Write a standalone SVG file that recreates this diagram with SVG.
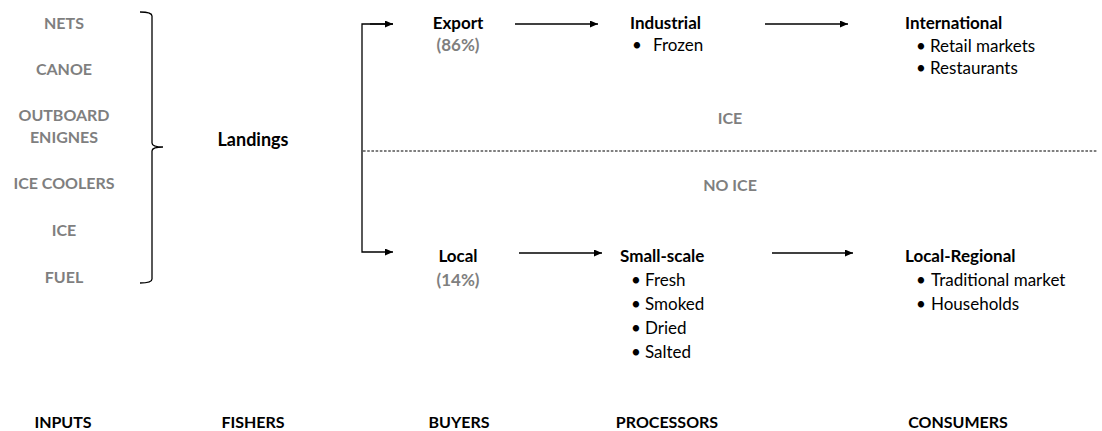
<svg xmlns="http://www.w3.org/2000/svg" width="1102" height="431" viewBox="0 0 1102 431">
<style>
text{font-family:Lato,"Open Sans","Liberation Sans",sans-serif;font-size:17px;}
.g{fill:#7f7f7f;font-weight:bold;font-size:16px;}
.p{fill:#7f7f7f;font-weight:bold;font-size:17px;}
.b{fill:#000;font-weight:bold;}
.k{fill:#000;font-weight:bold;font-size:16px;}
.n{fill:#000;}
.c{text-anchor:middle;}
.ln{stroke:#000;stroke-width:1.3;fill:none;}
</style>
<defs>
<marker id="ah" markerWidth="8" markerHeight="7" refX="8" refY="3.5" orient="auto" markerUnits="userSpaceOnUse">
<path d="M0,0 L8,3.5 L0,7 Z" fill="#000"/>
</marker>
</defs>
<rect width="1102" height="431" fill="#fff"/>
<g id="inputs">
<text class="g c" x="64" y="29">NETS</text>
<text class="g c" x="64" y="75">CANOE</text>
<text class="g c" x="64" y="121">OUTBOARD</text>
<text class="g c" x="64" y="143">ENIGNES</text>
<text class="g c" x="64" y="189">ICE COOLERS</text>
<text class="g c" x="64" y="236">ICE</text>
<text class="g c" x="64" y="283">FUEL</text>
</g>
<g id="brace">
<path class="ln" stroke-width="1" d="M140,12 Q152,12 152,16 V143 Q152,147 163,147 Q152,147 152,151 V279 Q152,283 140,283"/>
</g>
<g id="landings"><text class="b c" x="253" y="146" style="font-size:18px">Landings</text></g>
<g id="export"><text class="b c" x="458" y="29">Export</text><text class="p c" x="458" y="51">(86%)</text></g>
<g id="local"><text class="b c" x="458" y="262">Local</text><text class="p c" x="458" y="286">(14%)</text></g>
<g id="industrial">
<text class="b" x="630" y="29">Industrial</text>
<text class="n" y="51"><tspan x="632">•</tspan><tspan x="653">Frozen</tspan></text>
</g>
<g id="international">
<text class="b" x="905" y="29">International</text>
<text class="n" y="52"><tspan x="916">•</tspan><tspan x="930">Retail markets</tspan></text>
<text class="n" y="74"><tspan x="916">•</tspan><tspan x="930">Restaurants</tspan></text>
</g>
<g id="smallscale">
<text class="b" x="620" y="262">Small-scale</text>
<text class="n" y="286"><tspan x="631">•</tspan><tspan x="645">Fresh</tspan></text>
<text class="n" y="310"><tspan x="631">•</tspan><tspan x="645">Smoked</tspan></text>
<text class="n" y="334"><tspan x="631">•</tspan><tspan x="645">Dried</tspan></text>
<text class="n" y="358"><tspan x="631">•</tspan><tspan x="645">Salted</tspan></text>
</g>
<g id="localregional">
<text class="b" x="905" y="262">Local-Regional</text>
<text class="n" y="286"><tspan x="916">•</tspan><tspan x="931">Traditional market</tspan></text>
<text class="n" y="310"><tspan x="916">•</tspan><tspan x="931">Households</tspan></text>
</g>
<g id="ice-zones">
<text class="g c" x="730" y="124">ICE</text>
<text class="g c" x="730" y="191">NO ICE</text>
</g>
<g id="connectors">
<path class="ln" d="M393,24 H362 V252 H393" marker-end="url(#ah)"/>
<path class="ln" d="M370,24 H393" marker-end="url(#ah)"/>
<line class="ln" x1="515" y1="24" x2="598" y2="24" marker-end="url(#ah)"/>
<line class="ln" x1="765" y1="24" x2="848" y2="24" marker-end="url(#ah)"/>
<line class="ln" x1="519" y1="253" x2="602" y2="253" marker-end="url(#ah)"/>
<line class="ln" x1="772" y1="253" x2="853" y2="253" marker-end="url(#ah)"/>
<line x1="363" y1="151" x2="1098" y2="151" stroke="#000" stroke-width="1.2" stroke-dasharray="2.6,1.6"/>
</g>
<g id="stages">
<text class="k c" x="63" y="428">INPUTS</text>
<text class="k c" x="253" y="428">FISHERS</text>
<text class="k c" x="459" y="428">BUYERS</text>
<text class="k c" x="667" y="428">PROCESSORS</text>
<text class="k c" x="958" y="428">CONSUMERS</text>
</g>
</svg>
